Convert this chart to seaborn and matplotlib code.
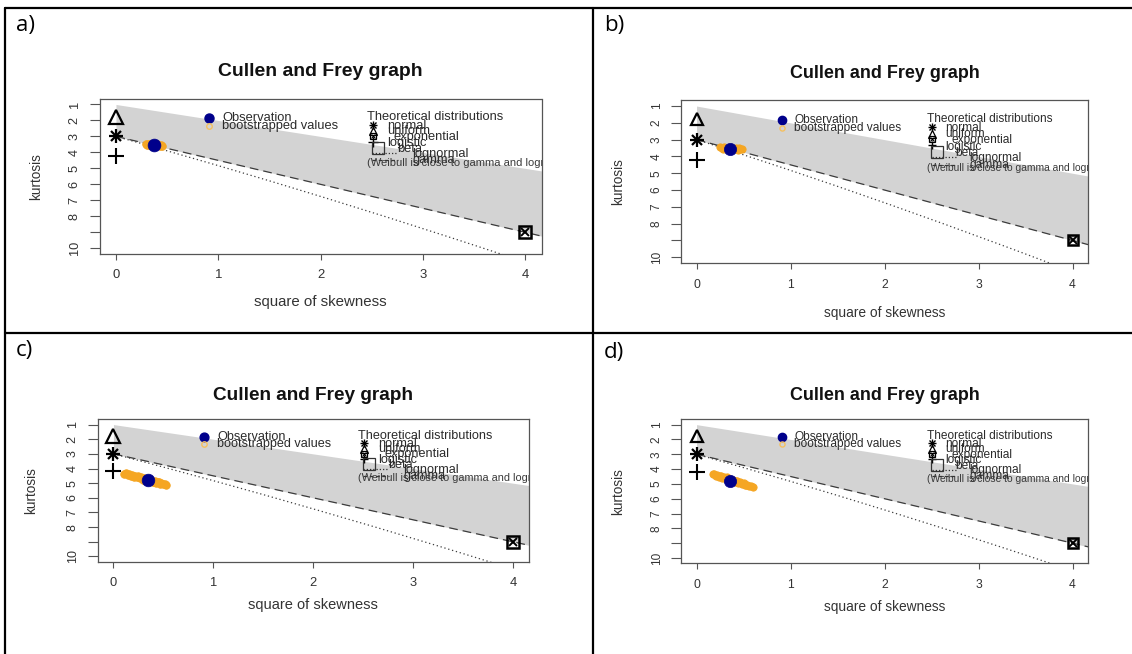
import matplotlib
matplotlib.use("Agg")
import matplotlib.pyplot as plt
from matplotlib.lines import Line2D
import seaborn as sns

sns.set_theme(style="white")
plt.rcParams['font.family'] = ['Liberation Sans', 'DejaVu Sans']

W, H = 1132, 654

# ---- theoretical reference curves (skewness^2, kurtosis) ----
beta_s2 = [0.0, 4.6]
beta_upper = [1.0, 5.6]        # kurtosis = skewness^2 + 1
gamma_kurt = [3.0, 9.9]        # kurtosis = 3 + 1.5 * skewness^2
lnorm_s2 = [0.0, 0.1824, 0.4651, 0.961, 1.4884, 2.048, 2.6406, 3.267, 3.5272, 3.9279]
lnorm_kurt = [3.0, 3.326, 3.838, 4.756, 5.758, 6.850, 8.035, 9.320, 9.863, 10.71]

# ---- theoretical distributions shown as single points ----
dist_names = ["normal", "uniform", "exponential", "logistic"]
dist_s2 = [0.0, 0.0, 4.0, 0.0]
dist_kurt = [3.0, 1.8, 9.0, 4.2]

# ---- x / y axis ticks ----
x_ticks = [0, 1, 2, 3, 4]
x_tick_labels = ["0", "1", "2", "3", "4"]
y_ticks = [1, 2, 3, 4, 5, 6, 7, 8, 9, 10]
y_tick_labels = ["1", "2", "3", "4", "5", "6", "7", "8", "", "10"]

# ---- observed samples ----
panel_labels = ["a)", "b)", "c)", "d)"]
obs_s2 = [0.37, 0.36, 0.35, 0.36]
obs_kurt = [3.52, 3.53, 4.80, 4.79]

# ---- bootstrapped values ----
boot_a_s2 = [0.29, 0.31, 0.33, 0.35, 0.37, 0.39, 0.41, 0.43, 0.45, 0.32, 0.40, 0.36, 0.30, 0.44]
boot_a_kurt = [3.47, 3.50, 3.49, 3.53, 3.51, 3.55, 3.54, 3.58, 3.60, 3.55, 3.48, 3.57, 3.52, 3.55]
boot_b_s2 = [0.25, 0.27, 0.29, 0.31, 0.33, 0.35, 0.38, 0.40, 0.42, 0.44, 0.46, 0.48, 0.28, 0.45]
boot_b_kurt = [3.45, 3.50, 3.42, 3.55, 3.48, 3.56, 3.50, 3.57, 3.52, 3.60, 3.55, 3.58, 3.56, 3.50]
boot_c_s2 = [0.11, 0.13, 0.15, 0.16, 0.18, 0.19, 0.21, 0.22, 0.24, 0.25, 0.27, 0.28, 0.30, 0.31,
             0.33, 0.35, 0.37, 0.38, 0.40, 0.42, 0.43, 0.45, 0.47, 0.48, 0.50, 0.52, 0.53,
             0.20, 0.26, 0.34, 0.41, 0.46]
boot_c_kurt = [4.34, 4.33, 4.46, 4.36, 4.49, 4.41, 4.58, 4.49, 4.61, 4.51, 4.65, 4.59, 4.76, 4.64,
               4.77, 4.74, 4.87, 4.78, 4.92, 4.84, 4.99, 4.92, 5.05, 4.98, 5.08, 5.07, 5.13,
               4.52, 4.56, 4.83, 4.89, 4.95]
boot_d_s2 = [0.17, 0.19, 0.21, 0.22, 0.24, 0.26, 0.27, 0.29, 0.31, 0.32, 0.34, 0.36, 0.38, 0.39,
             0.41, 0.43, 0.44, 0.46, 0.48, 0.50, 0.52, 0.54, 0.56, 0.58, 0.60,
             0.25, 0.30, 0.35, 0.42, 0.47, 0.53]
boot_d_kurt = [4.35, 4.32, 4.47, 4.37, 4.52, 4.44, 4.60, 4.52, 4.67, 4.56, 4.72, 4.67, 4.82, 4.71,
               4.86, 4.80, 4.95, 4.87, 5.01, 4.94, 5.08, 5.05, 5.16, 5.14, 5.22,
               4.50, 4.61, 4.74, 4.83, 4.93, 5.10]
boot_s2 = [boot_a_s2, boot_b_s2, boot_c_s2, boot_d_s2]
boot_kurt = [boot_a_kurt, boot_b_kurt, boot_c_kurt, boot_d_kurt]

# ---- page layout (pixels): plot box left, top, right, bottom; title y; xlabel y; ylabel x ----
boxes = [(99.6, 98.7, 541.5, 254.0), (681.5, 100.0, 1087.6, 263.3),
         (97.5, 419.3, 528.9, 561.7), (681.5, 419.3, 1087.6, 563.3)]
title_y = [71.7, 73.3, 395.0, 395.0]
xlab_y = [301.7, 312.7, 605.0, 606.7]
ylab_x = [36.0, 618.3, 30.7, 618.3]
label_xy = [(16, 15), (604, 15), (16, 340), (604, 342)]

fig = plt.figure(figsize=(W / 100, H / 100), dpi=100)
fig.patch.set_facecolor("white")

INK = "#2b2b2b"
GREY_FILL = "#d3d3d3"


def px(x, y):
    return x / W, 1 - y / H


def draw_panel(i):
    l, t, r, b = boxes[i]
    k = (r - l) / 442.0
    ax = fig.add_axes([l / W, 1 - b / H, (r - l) / W, (b - t) / H])
    ax.set_facecolor("white")

    # beta region
    ax.fill_between(beta_s2, beta_upper, gamma_kurt, color=GREY_FILL, lw=0, zorder=1)
    # gamma line (dashed) and lognormal curve (dotted)
    sns.lineplot(x=beta_s2, y=gamma_kurt, ax=ax, color="#3c3c3c", lw=0.9,
                 linestyle=(0, (7, 4)), sort=False, estimator=None, zorder=2)
    sns.lineplot(x=lnorm_s2, y=lnorm_kurt, ax=ax, color="#3c3c3c", lw=0.9,
                 linestyle=(0, (1, 2.2)), sort=False, estimator=None, zorder=2)

    # bootstrapped values and observation
    sns.scatterplot(x=boot_s2[i], y=boot_kurt[i], ax=ax, color="#f5a623", s=30 * k,
                    edgecolor="#f5a623", linewidth=0.6, zorder=3)
    sns.scatterplot(x=[obs_s2[i]], y=[obs_kurt[i]], ax=ax, color="#00008b", s=85 * k,
                    edgecolor="#00008b", linewidth=0.5, zorder=4)

    # theoretical distributions
    ms = 10.5 * k
    for name, xs, ys in zip(dist_names, dist_s2, dist_kurt):
        if name == "normal":
            ax.plot(xs, ys, marker="+", ms=ms, mew=1.6, color="black", ls="none", zorder=5, clip_on=False)
            ax.plot(xs, ys, marker="x", ms=ms * 0.75, mew=1.6, color="black", ls="none", zorder=5, clip_on=False)
        elif name == "uniform":
            ax.plot(xs, ys, marker="^", ms=ms * 0.95, mew=1.6, mfc="none", mec="black", ls="none", zorder=5, clip_on=False)
        elif name == "exponential":
            ax.plot(xs, ys, marker="s", ms=ms * 0.8, mew=1.8, mfc="none", mec="black", ls="none", zorder=5)
            ax.plot(xs, ys, marker="x", ms=ms * 0.6, mew=1.4, color="black", ls="none", zorder=5)
        elif name == "logistic":
            ax.plot(xs, ys, marker="+", ms=ms * 1.15, mew=1.5, color="black", ls="none", zorder=5, clip_on=False)

    # first legend: observation / bootstrap
    fs = 9.3 * k
    ax.plot(0.91, 1.84, marker="o", ms=6.5 * k, color="#00008b", ls="none", zorder=6)
    ax.plot(0.91, 2.32, marker="o", ms=4 * k, mfc="none", mec="#f5c060", mew=1.0, ls="none", zorder=6)
    ax.text(1.04, 1.84, "Observation", fontsize=fs, color=INK, va="center", ha="left", zorder=6)
    ax.text(1.04, 2.32, "bootstrapped values", fontsize=fs, color=INK, va="center", ha="left", zorder=6)

    # second legend: theoretical distributions
    ax.text(2.45, 1.80, "Theoretical distributions", fontsize=fs, color=INK, va="center", ha="left", zorder=6)
    lm = 5.5 * k
    ax.plot(2.51, 2.26, marker="+", ms=lm, mew=1.0, color="black", ls="none", zorder=6)
    ax.plot(2.51, 2.26, marker="x", ms=lm * 0.75, mew=1.0, color="black", ls="none", zorder=6)
    ax.text(2.65, 2.32, "normal", fontsize=fs, color=INK, va="center", ha="left", zorder=6)
    ax.plot(2.51, 2.67, marker="^", ms=lm, mew=0.9, mfc="none", mec="black", ls="none", zorder=6)
    ax.text(2.65, 2.67, "uniform", fontsize=fs, color=INK, va="center", ha="left", zorder=6)
    ax.plot(2.51, 2.98, marker="s", ms=lm * 0.8, mew=0.9, mfc="none", mec="black", ls="none", zorder=6)
    ax.plot(2.51, 2.98, marker="x", ms=lm * 0.55, mew=0.8, color="black", ls="none", zorder=6)
    ax.text(2.71, 3.03, "exponential", fontsize=fs, color=INK, va="center", ha="left", zorder=6)
    ax.plot(2.51, 3.32, marker="+", ms=lm * 1.2, mew=1.0, color="black", ls="none", zorder=6)
    ax.text(2.65, 3.41, "logistic", fontsize=fs, color=INK, va="center", ha="left", zorder=6)
    ax.plot(2.56, 3.72, marker="s", ms=lm * 1.7, mew=0.9, mfc="none", mec="#333333", ls="none", zorder=6)
    ax.text(2.75, 3.78, "beta", fontsize=fs, color=INK, va="center", ha="left", zorder=6)
    ax.plot([2.50, 2.76], [4.06, 4.06], color="#333333", lw=0.9, ls=(0, (1, 1.6)), zorder=6)
    ax.text(2.90, 4.08, "lognormal", fontsize=fs, color=INK, va="center", ha="left", zorder=6)
    ax.plot([2.50, 2.76], [4.50, 4.50], color="#333333", lw=0.9, ls=(0, (3, 2)), zorder=6)
    ax.text(2.90, 4.50, "gamma", fontsize=fs, color=INK, va="center", ha="left", zorder=6)
    ax.text(2.45, 4.68, "(Weibull is close to gamma and lognormal)", fontsize=8.0 * k,
            color="#3a3a3a", va="center", ha="left", zorder=6, clip_on=True)

    # axes, ticks, frame
    ax.set_xlim(-0.16, 4.16)
    ax.set_ylim(10.36, 0.64)
    ax.set_xticks(x_ticks)
    ax.set_xticklabels(x_tick_labels)
    ax.set_yticks(y_ticks)
    ax.set_yticklabels(y_tick_labels, rotation=90, va="center")
    ax.tick_params(axis="x", direction="out", length=4.5, width=0.8, color="#555555",
                   labelsize=9.5 * k, labelcolor="#333333", pad=6.5, bottom=True)
    ax.tick_params(axis="y", direction="out", length=7.5, width=0.8, color="#555555",
                   labelsize=9.2 * k, labelcolor="#333333", pad=6, left=True)
    for sp in ax.spines.values():
        sp.set_visible(True)
        sp.set_color("#555555")
        sp.set_linewidth(0.9)
    ax.set_xlabel("")
    ax.set_ylabel("")
    if ax.get_legend() is not None:
        ax.get_legend().remove()

    # titles and axis captions
    cx = (l + r) / 2
    cy = (t + b) / 2
    fig.text(*px(cx, title_y[i]), "Cullen and Frey graph", fontsize=14 * k, fontweight="bold",
             color="#111111", ha="center", va="center")
    fig.text(*px(cx, xlab_y[i]), "square of skewness", fontsize=10.8 * k, color="#333333",
             ha="center", va="center")
    fig.text(*px(ylab_x[i], cy), "kurtosis", fontsize=9.8, color="#333333",
             ha="center", va="center", rotation=90)
    # panel letter
    fig.text(*px(*label_xy[i]), panel_labels[i], fontsize=16, color="black",
             ha="left", va="top", family=["Open Sans", "DejaVu Sans"])


for i in range(4):
    draw_panel(i)

# table rules around the four panels
rule = dict(color="black", lw=1.6, transform=fig.transFigure)
for (x0, y0, x1, y1) in [(5, 8, 1132, 8), (5, 8, 5, 654), (593, 8, 593, 654), (5, 333, 1132, 333)]:
    fig.add_artist(Line2D([x0 / W, x1 / W], [1 - y0 / H, 1 - y1 / H], **rule))

fig.savefig("out.png", dpi=100, facecolor="white")
